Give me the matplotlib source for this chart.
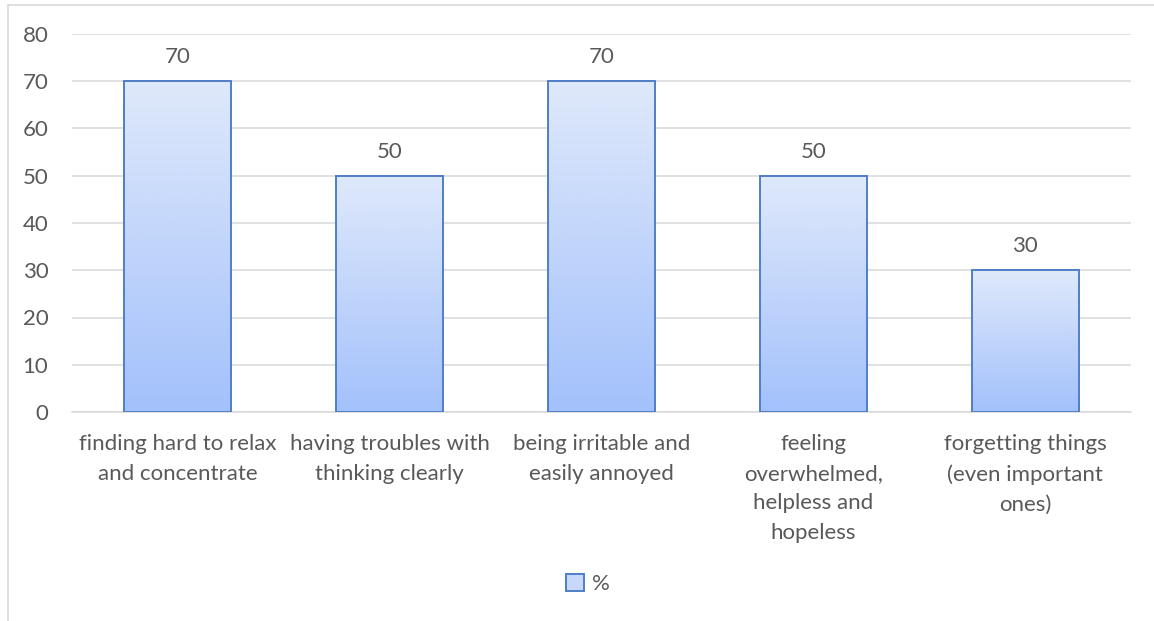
import numpy as np
import matplotlib.pyplot as plt
from matplotlib.patches import Rectangle, Patch
from matplotlib.colors import LinearSegmentedColormap

categories = ["finding hard to relax\nand concentrate",
              "having troubles with\nthinking clearly",
              "being irritable and\neasily annoyed",
              "feeling\noverwhelmed,\nhelpless and\nhopeless",
              "forgetting things\n(even important\nones)"]
values = [70, 50, 70, 50, 30]
series_name = "%"

plt.rcParams['font.family'] = ['Lato', 'DejaVu Sans']
txt = '#595959'
fs = 16

fig = plt.figure(figsize=(11.54, 6.21), dpi=100)
ax = fig.add_axes([72/1154, 1-412/621, (1131-72)/1154, (412-34)/621])

# light frame around the chart area
fig.patches.append(Rectangle((8/1154, -0.1), 1.2, 1 - 5/621 + 0.1, transform=fig.transFigure,
                             fill=False, edgecolor='#d9d9d9', linewidth=1.2))

x = np.arange(len(categories))
bars = ax.bar(x, values, width=0.505, color='none', edgecolor='#4f7fc9', linewidth=1.4, zorder=3)

# vertical gradient fill, clipped to each bar
grad = LinearSegmentedColormap.from_list('g', ['#a3c1fb', '#dfe9fb'])
for b in bars:
    x0, y0 = b.get_x(), b.get_y()
    im = ax.imshow(np.linspace(0, 1, 256).reshape(-1, 1), cmap=grad, aspect='auto',
                   origin='lower', extent=[x0, x0 + b.get_width(), y0, y0 + b.get_height()],
                   zorder=2)
    im.set_clip_path(b)

for xi, v in zip(x, values):
    ax.text(xi, v + 5.1, str(v), ha='center', va='center', fontsize=fs, color=txt)

ax.set_xlim(-0.5, len(categories) - 0.5)
ax.set_ylim(0, 80)
ax.set_yticks(range(0, 81, 10))
ax.grid(axis='y', color='#d9d9d9', linewidth=1.1, zorder=0)
ax.set_axisbelow(True)
for s in ['top', 'right', 'left']:
    ax.spines[s].set_visible(False)
ax.spines['bottom'].set_color('#d9d9d9')
ax.spines['bottom'].set_linewidth(1.1)
ax.tick_params(axis='both', length=0, labelsize=fs, labelcolor=txt)
ax.tick_params(axis='y', pad=17)
ax.set_xticks(x)
ax.set_xticklabels(categories, linespacing=1.6)
ax.tick_params(axis='x', pad=16)

handle = Patch(facecolor='#c7d8fb', edgecolor='#4f7fc9', linewidth=1.4)
fig.legend([handle], [series_name], loc='center', bbox_to_anchor=(588/1154, 1-584/621),
           frameon=False, fontsize=fs, labelcolor=txt, handlelength=0.8, handleheight=0.8,
           handletextpad=0.4)

fig.savefig('out.png', dpi=100)
